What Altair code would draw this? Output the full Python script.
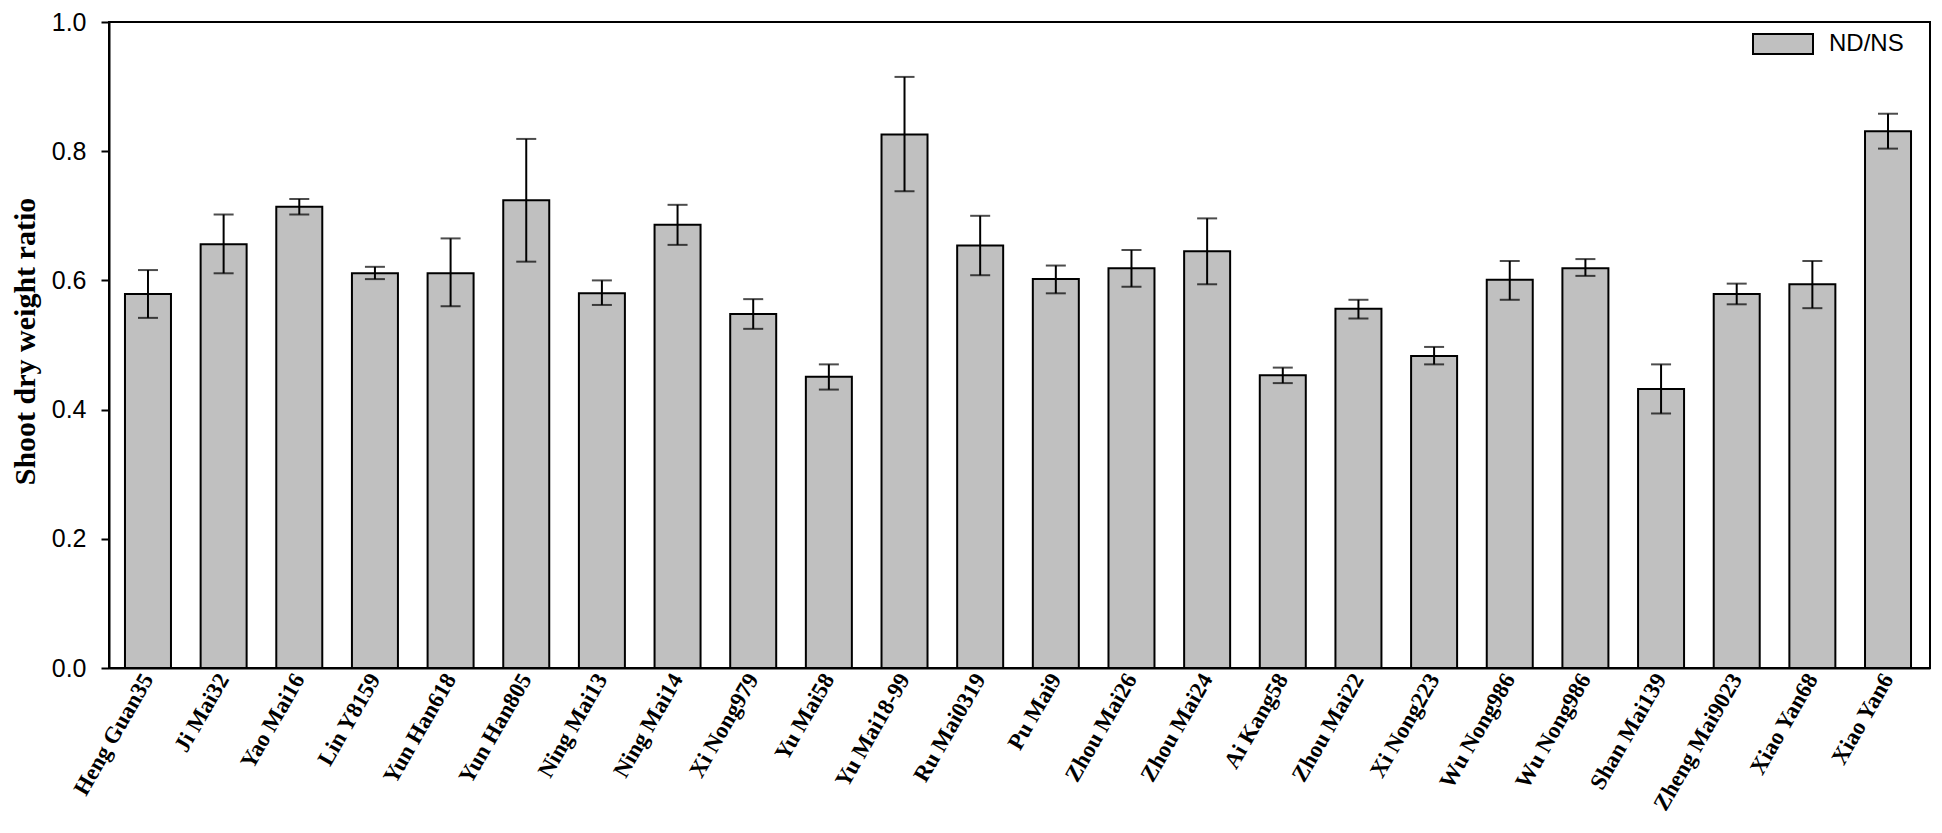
import json
import altair as alt
import pandas as pd

cultivars = ["Heng Guan35", "Ji Mai32", "Yao Mai16", "Lin Y8159", "Yun Han618", "Yun Han805",
             "Ning Mai13", "Ning Mai14", "Xi Nong979", "Yu Mai58", "Yu Mai18-99", "Ru Mai0319",
             "Pu Mai9", "Zhou Mai26", "Zhou Mai24", "Ai Kang58", "Zhou Mai22", "Xi Nong223",
             "Wu Nong986", "Wu Nong986", "Shan Mai139", "Zheng Mai9023", "Xiao Yan68", "Xiao Yan6"]
ratio = [0.579, 0.656, 0.714, 0.611, 0.611, 0.724, 0.580, 0.686, 0.548, 0.451, 0.826, 0.654,
         0.602, 0.619, 0.645, 0.453, 0.556, 0.483, 0.601, 0.619, 0.432, 0.579, 0.594, 0.831]
err_hi = [0.616, 0.702, 0.726, 0.621, 0.665, 0.819, 0.600, 0.717, 0.571, 0.470, 0.915, 0.700,
          0.623, 0.647, 0.696, 0.465, 0.570, 0.497, 0.630, 0.633, 0.470, 0.595, 0.630, 0.858]
err_lo = [0.542, 0.611, 0.702, 0.602, 0.560, 0.629, 0.562, 0.655, 0.525, 0.431, 0.738, 0.608,
          0.580, 0.590, 0.594, 0.441, 0.541, 0.470, 0.570, 0.607, 0.394, 0.563, 0.557, 0.804]
series_name = "ND/NS"
y_ticks = [0.0, 0.2, 0.4, 0.6, 0.8, 1.0]

df = pd.DataFrame({
    "idx": list(range(len(cultivars))),
    "ratio": ratio,
    "hi": err_hi,
    "lo": err_lo,
    "series": [series_name] * len(cultivars),
})

label_expr = json.dumps(cultivars) + "[datum.value]"

x_enc = alt.X(
    "idx:O",
    title=None,
    scale=alt.Scale(paddingInner=0.392, paddingOuter=0.231, align=0.457),
    axis=alt.Axis(
        labelExpr=label_expr,
        labelAngle=300,
        labelAlign="right",
        labelBaseline="middle",
        labelFont="Liberation Serif",
        labelFontWeight="bold",
        labelFontSize=23,
        labelColor="black",
        labelPadding=7,
        labelLimit=0,
        labelOverlap=False,
        ticks=False,
        domainColor="black",
        domainWidth=2,
    ),
)

y_scale = alt.Scale(domain=[0, 1], nice=False, zero=True)

base = alt.Chart(df)

bars = base.mark_bar(stroke="black", strokeWidth=2, opacity=1).encode(
    x=x_enc,
    y=alt.Y(
        "ratio:Q",
        scale=y_scale,
        title="Shoot dry weight ratio",
        axis=alt.Axis(
            values=y_ticks,
            format=".1f",
            grid=False,
            tickSize=8,
            tickWidth=2,
            tickColor="black",
            domainColor="black",
            domainWidth=2,
            labelFont="Liberation Sans",
            labelFontSize=25,
            labelColor="black",
            labelPadding=15,
            titleFont="Liberation Serif",
            titleFontWeight="bold",
            titleFontSize=30,
            titleColor="black",
            titleAngle=270,
            titleAlign="center",
            titleBaseline="bottom",
            titleX=-69,
            titleY=319,
        ),
    ),
    fill=alt.Fill(
        "series:N",
        scale=alt.Scale(domain=[series_name], range=["#c0c0c0"]),
        legend=alt.Legend(
            title=None,
            orient="none",
            legendX=1643,
            legendY=-9,
            padding=0,
            symbolType="M-1,-0.333H1V0.333H-1Z",
            symbolSize=3600,
            symbolStrokeColor="black",
            symbolStrokeWidth=2,
            symbolOpacity=1,
            labelFont="Liberation Sans",
            labelFontSize=24,
            labelColor="black",
            labelOffset=15,
        ),
    ),
)

rules = base.mark_rule(color="black", strokeWidth=2).encode(
    x="idx:O",
    y=alt.Y("lo:Q", scale=y_scale),
    y2="hi:Q",
)

caps_hi = base.mark_tick(color="black", thickness=2, size=20, orient="horizontal").encode(
    x="idx:O",
    y=alt.Y("hi:Q", scale=y_scale),
)
caps_lo = base.mark_tick(color="black", thickness=2, size=20, orient="horizontal").encode(
    x="idx:O",
    y=alt.Y("lo:Q", scale=y_scale),
)

chart = alt.layer(bars, rules, caps_hi, caps_lo).properties(
    width=1821,
    height=646,
    autosize=alt.AutoSizeParams(type="none"),
    padding={"left": 101, "top": 14, "right": 2, "bottom": 153},
    background="white",
).configure_view(
    stroke="black",
    strokeWidth=2,
)

chart.save("out.html", embed_options={"renderer": "svg", "actions": False})
